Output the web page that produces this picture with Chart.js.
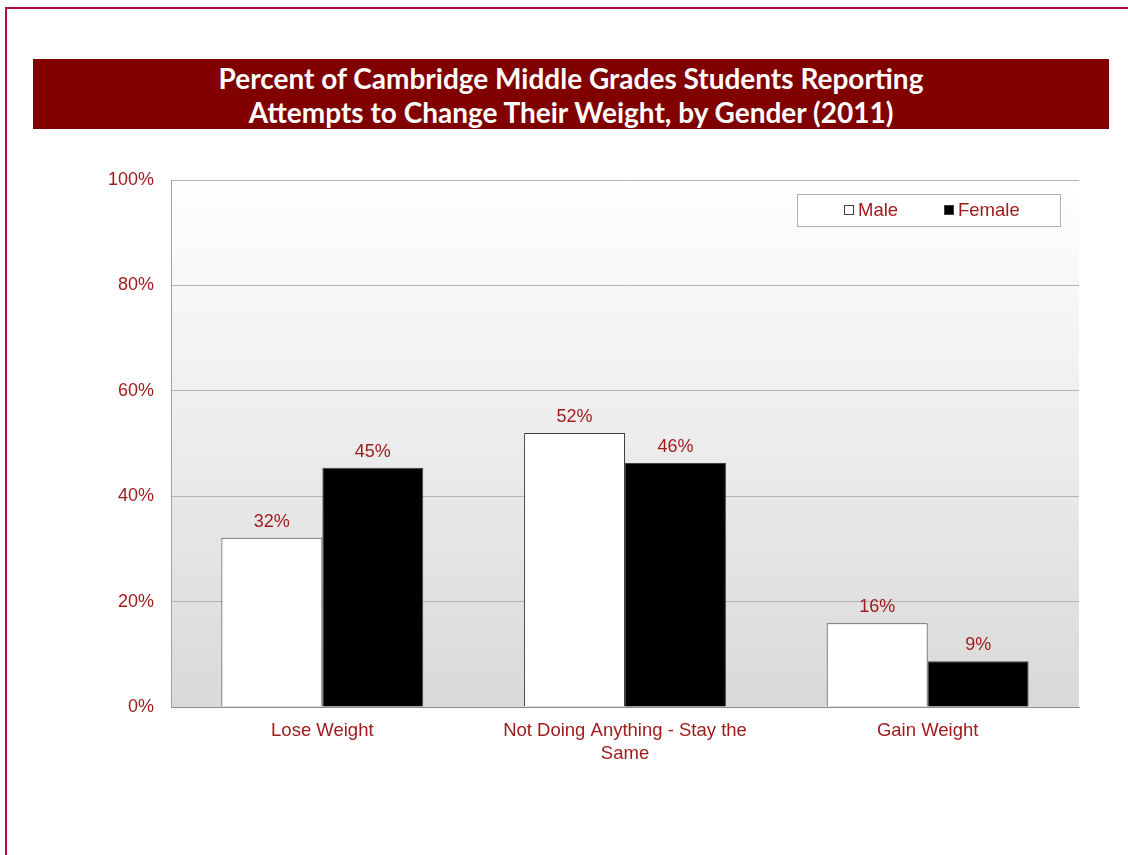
<!DOCTYPE html>
<html>
<head>
<meta charset="utf-8">
<script src="https://cdn.jsdelivr.net/npm/chart.js@4.4.0/dist/chart.umd.min.js"></script>
<style>
  html, body { margin:0; padding:0; background:#fff; width:1128px; height:855px; overflow:hidden; }
  #frame { position:absolute; left:5px; top:7px; width:1200px; height:846px;
           border-left:2px solid #b0103a; border-top:2px solid #b0103a; border-bottom:1px solid #e6a0b0; }
  #title { position:absolute; left:33px; top:59px; width:1076px; height:70px; background:#800000;
           color:#fff; font-family:Lato, "Open Sans", sans-serif; font-weight:bold; font-size:28px;
           line-height:34px; text-align:center; box-sizing:border-box; padding-top:2px; }
  #wrap { position:absolute; left:0; top:0; width:1128px; height:855px; }
</style>
</head>
<body>
<div id="frame"></div>
<div id="title">Percent of Cambridge Middle Grades Students Reporting<br>Attempts to Change Their Weight, by Gender (2011)</div>
<div id="wrap"><canvas id="c" width="1128" height="855"></canvas></div>
<script>
const categories = [["Lose Weight"], ["Not Doing Anything - Stay the", "Same"], ["Gain Weight"]];
const seriesNames = ["Male", "Female"];
const maleValues = [32.1, 52.0, 15.9];
const femaleValues = [45.4, 46.3, 8.7];
const yTicks = [0, 20, 40, 60, 80, 100];

const RED = '#a01c1c';
const FONT = '"Liberation Sans", Arial, sans-serif';

const bgPlugin = {
  id: 'bg',
  beforeDraw(chart) {
    const {ctx, chartArea: a} = chart;
    const g = ctx.createLinearGradient(0, a.top, 0, a.bottom);
    g.addColorStop(0, '#ffffff');
    g.addColorStop(1, '#d9d9d9');
    ctx.save();
    ctx.fillStyle = g;
    ctx.fillRect(a.left, a.top, a.right - a.left, a.bottom - a.top);
    ctx.restore();
  }
};

const labelPlugin = {
  id: 'vals',
  afterDatasetsDraw(chart) {
    const {ctx} = chart;
    ctx.save();
    ctx.font = '18px ' + FONT;
    ctx.fillStyle = RED;
    ctx.textAlign = 'center';
    ctx.textBaseline = 'bottom';
    chart.data.datasets.forEach((ds, i) => {
      chart.getDatasetMeta(i).data.forEach((bar, j) => {
        ctx.fillText(Math.round(ds.data[j]) + '%', bar.x, bar.y - 7);
      });
    });
    ctx.restore();
  }
};

const legendPlugin = {
  id: 'customLegend',
  afterDraw(chart) {
    const {ctx} = chart;
    const x0 = 797, y0 = 194, w = 263, h = 32;
    ctx.save();
    ctx.fillStyle = '#ffffff';
    ctx.fillRect(x0, y0, w, h);
    ctx.strokeStyle = '#b0b0b0';
    ctx.lineWidth = 1;
    ctx.strokeRect(x0 + 0.5, y0 + 0.5, w, h);
    ctx.font = '18.5px ' + FONT;
    ctx.textBaseline = 'middle';
    ctx.textAlign = 'left';
    const xs = [844, 944];
    chart.data.datasets.forEach((ds, i) => {
      const bx = xs[i], by = y0 + h / 2 - 5;
      ctx.fillStyle = ds.backgroundColor;
      ctx.fillRect(bx, by, 10, 10);
      ctx.strokeStyle = '#404040';
      ctx.strokeRect(bx + 0.5, by + 0.5, 9, 9);
      ctx.fillStyle = RED;
      ctx.fillText(ds.label, bx + 14, y0 + h / 2 + 1);
    });
    ctx.restore();
  }
};

new Chart(document.getElementById('c'), {
  type: 'bar',
  data: {
    labels: categories,
    datasets: [
      { label: seriesNames[0], data: maleValues, backgroundColor: '#ffffff', borderColor: '#404040', borderWidth: 1 },
      { label: seriesNames[1], data: femaleValues, backgroundColor: '#000000', borderColor: '#404040', borderWidth: 1 }
    ]
  },
  options: {
    responsive: false,
    animation: false,
    events: [],
    layout: { padding: { left: 0, right: 49, top: 180, bottom: 0 } },
    datasets: { bar: { categoryPercentage: 0.667, barPercentage: 1.0 } },
    plugins: { legend: { display: false }, tooltip: { enabled: false }, title: { display: false } },
    scales: {
      x: {
        afterFit(s) { s.height = 148; },
        grid: { display: false, drawTicks: false },
        border: { display: true, color: '#8c8c8c', width: 1 },
        ticks: { color: RED, font: { family: FONT, size: 18.5, lineHeight: 1.22 }, padding: 13, maxRotation: 0, autoSkip: false }
      },
      y: {
        min: 0, max: 100,
        afterFit(s) { s.width = 171; },
        afterBuildTicks(s) { s.ticks = yTicks.map(v => ({ value: v })); },
        grid: { color: '#b4b4b4', drawTicks: false },
        border: { display: true, color: '#a0a0a0', width: 1 },
        ticks: { color: RED, font: { family: FONT, size: 18 }, padding: 17, callback: v => v + '%' }
      }
    }
  },
  plugins: [bgPlugin, labelPlugin, legendPlugin]
});
</script>
</body>
</html>
